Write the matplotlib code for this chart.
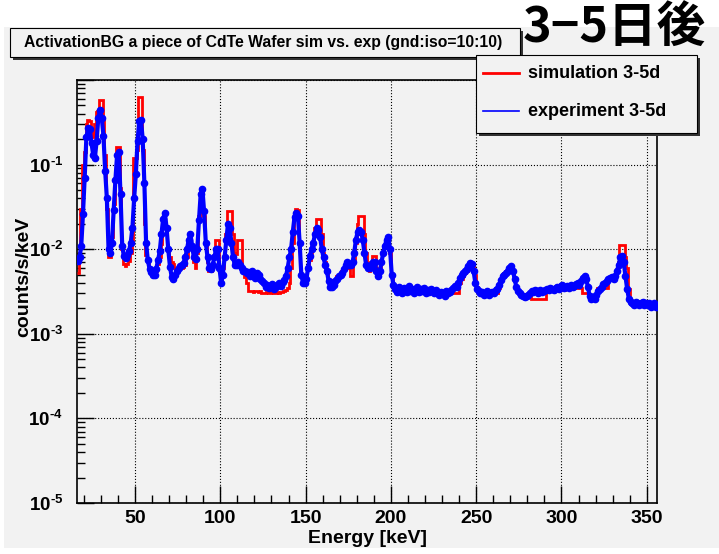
import numpy as np
import matplotlib
matplotlib.use('Agg')
from matplotlib import pyplot as plt
from matplotlib.patches import Rectangle
from matplotlib.lines import Line2D
from matplotlib.ticker import FixedLocator, MultipleLocator, LogLocator, FuncFormatter, NullFormatter

# --- data: 1 keV bins starting at E_LOW, values in 1e-3 counts/s/keV --- #
E_LOW = 16

sim = [
    5.2, 9, 30, 100, 140, 300, 340, 330, 250, 210,          # 16
    300, 420, 430, 580, 580, 360, 130, 30, 8, 8,            # 26
    14, 34, 85, 160, 160, 53, 10, 6.6, 6.3, 6.6,            # 36
    7.2, 9, 13, 120, 120, 150, 630, 630, 150, 20,           # 46
    8.5, 7.4, 5.9, 5.2, 4.9, 5.0, 5.5, 6.6, 8, 11.5,        # 56
    19.6, 20, 15, 10, 8, 7, 6.7, 6.0, 5.8, 6.0,             # 66
    6.0, 6.0, 6.2, 6.5, 8, 12, 13, 11, 7, 6,                # 76
    9, 25, 50, 48, 25, 12, 7, 5.5, 5.5, 6,                  # 86
    8, 13, 13, 6, 4.5, 6, 9, 15, 28, 28,                    # 96
    28, 15, 9, 8.8, 13, 13, 13, 6, 4.7, 4,                  # 106
    3.2, 3.2, 3.2, 3.1, 3.2, 3.2, 3.1, 3.2, 3.0, 3.0,       # 116
    3.0, 3.1, 3.0, 3.0, 3.1, 3.0, 3.0, 3.1, 3.0, 3.1,       # 126
    3.1, 3.2, 3.3, 3.5, 4, 6, 12, 25, 30, 29,               # 136
    12, 5, 4.4, 4.4, 5, 6, 7.5, 9, 12, 18,                  # 146
    23, 23, 23, 15, 9, 7, 5.5, 4.5, 4.3, 4.2,               # 156
    4.3, 4.5, 4.8, 5, 5.3, 5.6, 6, 6.5, 7, 6,               # 166
    4.8, 4.8, 7, 12, 20, 25, 25, 25, 15, 9,                 # 176
    6, 5.5, 7, 8.3, 8.3, 6, 4.8, 5.5, 7, 9,                 # 186
    11, 13, 13, 9, 5, 3.6, 3.3, 3.3, 3.3, 3.3,              # 196
    3.3, 3.3, 3.3, 3.3, 3.3, 3.3, 3.3, 3.3, 3.3, 3.3,       # 206
    3.2, 3.2, 3.2, 3.2, 3.2, 3.2, 3.2, 3.2, 3.2, 3.2,       # 216
    3.2, 3.0, 3.0, 3.0, 3.0, 3.0, 3.0, 3.0, 3.0, 3.0,       # 226
    3.0, 3.0, 3.0, 3.0, 4, 4.5, 4.8, 5.2, 5.6, 6.2,         # 236
    6.9, 6.9, 6.5, 5, 3.6, 3.2, 3.0, 3.0, 3.0, 3.0,         # 246
    3.0, 3.0, 3.0, 3.0, 3.0, 3.0, 3.0, 3.5, 4.2, 4.8,       # 256
    5.2, 5.5, 6, 6.3, 6.3, 5.5, 4.5, 3.5, 3.2, 3.0,         # 266
    2.8, 2.8, 2.8, 2.8, 2.8, 2.8, 2.6, 2.6, 2.6, 2.6,       # 276
    2.6, 2.6, 2.6, 2.6, 2.6, 3.3, 3.3, 3.3, 3.3, 3.3,       # 286
    3.3, 3.3, 3.3, 3.3, 3.3, 3.3, 3.5, 3.5, 3.5, 3.5,       # 296
    3.5, 3.5, 3.5, 3.5, 3.5, 3.5, 3.0, 3.0, 3.0, 3.0,       # 306
    2.7, 2.7, 2.7, 2.7, 2.7, 3.5, 3.5, 3.5, 3.5, 3.5,       # 316
    3.5, 4.6, 4.6, 4.6, 4.6, 4.6, 5.5, 7, 11.3, 11.3,       # 326
    11.3, 8, 6, 3.4, 2.6, 2.3, 2.3, 2.3, 2.3, 2.3,          # 336
    2.3, 2.3, 2.3, 2.3, 2.3, 2.3, 2.3, 2.3, 2.3, 2.3,       # 346
]

exp = [
    7.2, 8, 11, 26, 70, 210, 270, 260, 180, 130,            # 16
    120, 190, 360, 440, 360, 220, 85, 40, 10, 9,            # 26
    12, 29, 65, 130, 140, 45, 11, 8.2, 7.8, 8.5,            # 36
    9.5, 12, 18, 40, 77, 190, 330, 340, 200, 60,            # 46
    12, 7.4, 5.9, 5.4, 4.9, 5.0, 5.9, 7.4, 9.4, 15,         # 56
    23, 27, 18, 10, 6.2, 4.7, 4.5, 5.0, 5.5, 6.0,           # 66
    6.3, 6.5, 6.8, 8, 10, 13, 15, 11, 8, 7.6,               # 76
    10, 22, 45, 52, 28, 12, 8, 6, 5.8, 6.5,                 # 86
    8, 10, 10, 6, 4, 5, 8, 13, 20, 18,                      # 96
    12, 8, 6.5, 6.5, 7, 6.5, 6, 5.5, 5.5, 5.2,              # 106
    5.4, 4.8, 5.6, 5.0, 4.6, 5.2, 4.9, 4.5, 4.2, 4.0,       # 116
    3.6, 3.8, 3.5, 3.7, 3.9, 3.4, 3.6, 3.8, 4.0, 3.7,       # 126
    4.1, 4.3, 4.8, 6, 8, 10, 16, 24, 27, 25,                # 136
    12, 5, 4, 4, 4.5, 6, 8.3, 10, 12, 15,                   # 146
    18, 17, 14, 10, 8, 6.5, 5.5, 4.2, 3.6, 3.6,             # 156
    3.8, 4.2, 4.5, 4.8, 5, 5.2, 5.8, 6.5, 7, 6.5,           # 166
    6.5, 7, 9, 13, 16, 17, 16, 13, 9, 6.5,                  # 176
    6, 6, 6.5, 7, 7, 5.5, 4.8, 5.5, 7, 9,                   # 186
    11, 13, 14, 10, 5, 3.8, 3.4, 3.1, 3.6, 3.2,             # 196
    3.0, 3.5, 3.3, 3.1, 3.7, 3.2, 3.4, 3.0, 3.3, 3.6,       # 206
    3.1, 3.4, 3.2, 3.5, 3.0, 3.3, 3.1, 3.4, 3.2, 3.0,       # 216
    3.3, 3.0, 2.9, 3.1, 3.0, 2.8, 3.2, 3.0, 3.1, 3.3,       # 226
    3.5, 3.7, 3.6, 4.0, 4.6, 4.9, 5.2, 5.6, 5.9, 6.4,       # 236
    6.9, 6.6, 5.5, 4.0, 3.4, 3.2, 3.0, 3.1, 2.9, 3.0,       # 246
    3.2, 2.9, 3.0, 3.1, 3.0, 3.3, 3.4, 3.8, 4.3, 4.8,       # 256
    5.0, 5.3, 5.6, 6.0, 6.3, 5.6, 4.5, 3.6, 3.2, 3.0,       # 266
    2.9, 2.8, 2.7, 2.8, 2.9, 3.0, 3.2, 3.1, 3.3, 3.2,       # 276
    3.0, 3.3, 3.1, 3.2, 3.3, 3.4, 3.3, 3.5, 3.4, 3.3,       # 286
    3.5, 3.6, 3.4, 3.7, 3.8, 3.5, 3.6, 3.7, 3.5, 3.8,       # 296
    3.6, 3.7, 3.9, 4.0, 3.8, 4.2, 4.6, 4.8, 4.4, 3.6,       # 306
    2.8, 2.6, 2.7, 2.6, 2.9, 3.2, 3.4, 3.6, 3.9, 4.0,       # 316
    4.2, 4.5, 4.6, 4.7, 4.4, 4.8, 5.5, 6.5, 8.0, 8.3,       # 326
    7.0, 4.8, 3.4, 2.6, 2.4, 2.3, 2.2, 2.4, 2.3, 2.2,       # 336
    2.3, 2.4, 2.2, 2.3, 2.2, 2.3, 2.1, 2.2, 2.3, 2.1,       # 346
]

x_ticks = [50, 100, 150, 200, 250, 300, 350]
title = 'ActivationBG a piece of CdTe Wafer sim vs. exp (gnd:iso=10:10)'
legend_labels = ['simulation 3-5d', 'experiment 3-5d']
stamp = '3\u22125日後'

assert len(sim) == len(exp)

plt.rcParams['font.family'] = ['Liberation Sans', 'DejaVu Sans']
plt.rcParams['font.weight'] = 'bold'
plt.rcParams['mathtext.fontset'] = 'custom'
plt.rcParams['mathtext.rm'] = 'Liberation Sans:bold'
plt.rcParams['mathtext.bf'] = 'Liberation Sans:bold'

W, H = 719, 554


def fx(px):
    return px / W


def fy(py):
    return 1 - py / H


def decade_label(v, pos):
    if v > 0.5:
        return ''
    return r'$\mathbf{10^{\text{-}%d}}$' % abs(round(np.log10(v)))


fig = plt.figure(figsize=(7.19, 5.54), dpi=100)
fig.patch.set_facecolor('white')
bg = '#f2f2f2'

# ROOT canvas
fig.add_artist(Rectangle((fx(4), fy(548)), fx(715), (548 - 27) / H, transform=fig.transFigure,
                         facecolor=bg, edgecolor='none', zorder=-10))

ax = fig.add_axes([fx(77), fy(503), fx(657 - 77), (503 - 80) / H])
ax.set_facecolor(bg)

energies = np.arange(E_LOW, E_LOW + len(sim) + 1)
ax.stairs(np.array(sim) * 1e-3, energies, color='red', lw=2, baseline=None, zorder=3)
ax.plot(energies[:-1] + 0.5, np.array(exp) * 1e-3, color='blue', lw=3, marker='o', ms=4.5,
        mec='blue', mfc='blue', zorder=4)

ax.set_yscale('log')
ax.set_xlim(energies[0], energies[-1])
ax.set_ylim(1e-5, 1)

ax.xaxis.set_major_locator(FixedLocator(x_ticks))
ax.xaxis.set_minor_locator(MultipleLocator(10))
ax.yaxis.set_major_locator(LogLocator(base=10, numticks=10))
ax.yaxis.set_minor_locator(LogLocator(base=10, subs=np.arange(2, 10), numticks=10))
ax.yaxis.set_minor_formatter(NullFormatter())
ax.yaxis.set_major_formatter(FuncFormatter(decade_label))

ax.tick_params(axis='both', which='both', direction='in', top=False, right=False, width=1, colors='black')
ax.tick_params(axis='x', which='major', length=12, pad=5, labelsize=14)
ax.tick_params(axis='x', which='minor', length=6)
ax.tick_params(axis='y', which='major', length=12, pad=10, labelsize=13.5)
ax.tick_params(axis='y', which='minor', length=6)
for lab in ax.get_xticklabels():
    lab.set_fontweight('bold')

ax.grid(True, which='major', linestyle=':', color='black', lw=0.8)
for s in ax.spines.values():
    s.set_linewidth(1.2)
    s.set_color('black')

ax.set_xlabel('Energy [keV]', fontsize=14, fontweight='bold', labelpad=2)
ax.set_ylabel('counts/s/keV', fontsize=14, fontweight='bold')
ax.yaxis.set_label_coords(-0.078, 0.534)

# title box with shadow
fig.add_artist(Rectangle((fx(13), fy(60)), fx(510), 29 / H, transform=fig.transFigure,
                         facecolor='#333333', edgecolor='none', zorder=5))
fig.add_artist(Rectangle((fx(10), fy(57)), fx(510), 29 / H, transform=fig.transFigure,
                         facecolor=bg, edgecolor='black', lw=0.8, zorder=6))
fig.text(fx(263), fy(43), title, ha='center', va='center', fontsize=11.3, fontweight='bold', zorder=7)

# legend box with shadow
fig.add_artist(Rectangle((fx(479), fy(136)), fx(221), 78 / H, transform=fig.transFigure,
                         facecolor='#333333', edgecolor='none', zorder=8))
fig.add_artist(Rectangle((fx(476), fy(133)), fx(221), 78 / H, transform=fig.transFigure,
                         facecolor=bg, edgecolor='black', lw=0.8, zorder=9))
fig.add_artist(Line2D([fx(483), fx(519)], [fy(73), fy(73)], transform=fig.transFigure,
                      color='red', lw=2, zorder=10))
fig.add_artist(Line2D([fx(483), fx(519)], [fy(111), fy(111)], transform=fig.transFigure,
                      color='blue', lw=1.2, zorder=10))
fig.text(fx(528), fy(73), legend_labels[0], ha='left', va='center', fontsize=13, fontweight='bold', zorder=10)
fig.text(fx(528), fy(111), legend_labels[1], ha='left', va='center', fontsize=13, fontweight='bold', zorder=10)

fig.text(fx(706), fy(28), stamp, ha='right', va='center', fontsize=35, fontweight='bold',
         family=['Noto Sans CJK JP', 'DejaVu Sans'], zorder=11)

fig.savefig('out.png', dpi=100, facecolor=fig.get_facecolor())
